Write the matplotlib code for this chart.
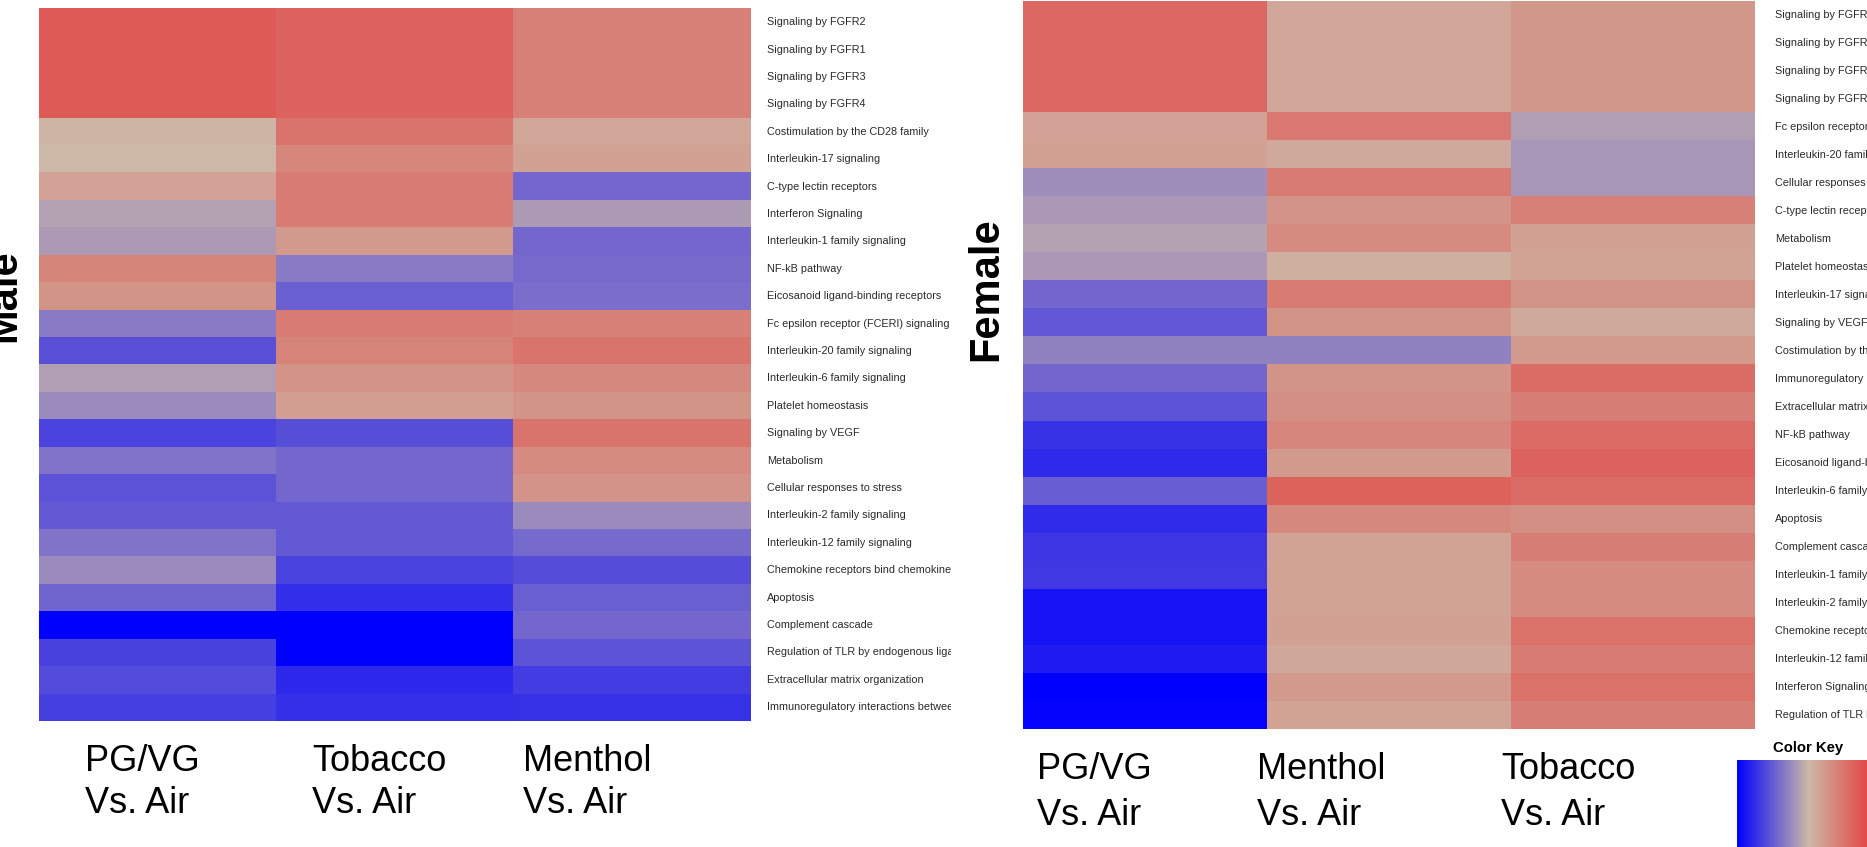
import numpy as np
import matplotlib
matplotlib.use("Agg")
import matplotlib.pyplot as plt
from matplotlib.colors import LinearSegmentedColormap
from matplotlib.transforms import Bbox, TransformedBbox, blended_transform_factory

plt.rcParams['font.family'] = ['Liberation Sans', 'DejaVu Sans']

W, H = 1867, 847

# Male: pathway order and scaled enrichment per exposure
male_pathways = [
    "Signaling by FGFR2", "Signaling by FGFR1", "Signaling by FGFR3", "Signaling by FGFR4",
    "Costimulation by the CD28 family", "Interleukin-17 signaling", "C-type lectin receptors",
    "Interferon Signaling", "Interleukin-1 family signaling", "NF-kB pathway",
    "Eicosanoid ligand-binding receptors", "Fc epsilon receptor (FCERI) signaling",
    "Interleukin-20 family signaling", "Interleukin-6 family signaling", "Platelet homeostasis",
    "Signaling by VEGF", "Metabolism", "Cellular responses to stress",
    "Interleukin-2 family signaling", "Interleukin-12 family signaling",
    "Chemokine receptors bind chemokines", "Apoptosis", "Complement cascade",
    "Regulation of TLR by endogenous ligand", "Extracellular matrix organization",
    "Immunoregulatory interactions between a Lymphoid and a non-Lymphoid cell",
]
male_pgvg = [0.69, 0.69, 0.69, 0.69, 0.02, 0.00, 0.16, -0.12, -0.16, 0.38, 0.26, -0.33, -0.56,
             -0.14, -0.24, -0.63, -0.37, -0.55, -0.51, -0.37, -0.24, -0.45, -1.00, -0.64, -0.59, -0.65]
male_tobacco = [0.63, 0.63, 0.63, 0.63, 0.50, 0.36, 0.44, 0.44, 0.22, -0.33, -0.47, 0.44, 0.39,
                0.27, 0.19, -0.57, -0.43, -0.43, -0.51, -0.51, -0.63, -0.75, -1.00, -1.00, -0.78, -0.74]
male_menthol = [0.41, 0.41, 0.41, 0.41, 0.13, 0.17, -0.43, -0.15, -0.43, -0.42, -0.40, 0.41, 0.50,
                0.35, 0.26, 0.50, 0.33, 0.27, -0.24, -0.42, -0.58, -0.48, -0.43, -0.54, -0.67, -0.73]
male_columns = ["PG/VG", "Tobacco", "Menthol"]

# Female
female_pathways = [
    "Signaling by FGFR2", "Signaling by FGFR1", "Signaling by FGFR3", "Signaling by FGFR4",
    "Fc epsilon receptor (FCERI) signaling", "Interleukin-20 family signaling",
    "Cellular responses to stress", "C-type lectin receptors", "Metabolism",
    "Platelet homeostasis", "Interleukin-17 signaling", "Signaling by VEGF",
    "Costimulation by the CD28 family",
    "Immunoregulatory interactions between a Lymphoid and a non-Lymphoid cell",
    "Extracellular matrix organization", "NF-kB pathway", "Eicosanoid ligand-binding receptors",
    "Interleukin-6 family signaling", "Apoptosis", "Complement cascade",
    "Interleukin-1 family signaling", "Interleukin-2 family signaling",
    "Chemokine receptors bind chemokines", "Interleukin-12 family signaling",
    "Interferon Signaling", "Regulation of TLR by endogenous ligand",
]
female_pgvg = [0.59, 0.59, 0.59, 0.59, 0.16, 0.17, -0.22, -0.17, -0.12, -0.17, -0.44, -0.52, -0.29,
               -0.44, -0.54, -0.72, -0.77, -0.49, -0.76, -0.70, -0.68, -0.89, -0.89, -0.84, -1.00, -0.97]
female_menthol = [0.13, 0.13, 0.13, 0.13, 0.47, 0.10, 0.44, 0.27, 0.33, 0.07, 0.44, 0.26, -0.29,
                  0.26, 0.30, 0.37, 0.22, 0.64, 0.35, 0.15, 0.15, 0.15, 0.17, 0.11, 0.22, 0.15]
female_tobacco = [0.24, 0.24, 0.24, 0.24, -0.14, -0.18, -0.18, 0.41, 0.17, 0.15, 0.26, 0.10, 0.22,
                  0.54, 0.42, 0.57, 0.63, 0.56, 0.30, 0.42, 0.33, 0.33, 0.52, 0.44, 0.52, 0.42]
female_columns = ["PG/VG", "Menthol", "Tobacco"]

cmap = LinearSegmentedColormap.from_list("bluetanred", ["#0000FF", "#CDB8A8", "#E63232"])

fig = plt.figure(figsize=(W / 100, H / 100), dpi=100)


def px_axes(x0, y0, x1, y1):
    return fig.add_axes([x0 / W, 1 - y1 / H, (x1 - x0) / W, (y1 - y0) / H])


def draw_heatmap(ax, columns, pathways, label_x, clip_right):
    data = np.column_stack(columns)
    ax.imshow(data, cmap=cmap, vmin=-1, vmax=1, aspect="auto", interpolation="nearest")
    ax.set_axis_off()
    # row labels to the right, cut off at clip_right
    trans = blended_transform_factory(fig.transFigure, ax.transData)
    clip = TransformedBbox(Bbox.from_extents(0, 0, clip_right / W, 1), fig.transFigure)
    for i, name in enumerate(pathways):
        fig.text(label_x / W, i, name, transform=trans, ha="left", va="center",
                 fontsize=7.8, color="#2a2a2a", clip_on=True, clip_box=clip)


def column_headers(names, xs, base1, base2):
    for name, x in zip(names, xs):
        fig.text(x / W, 1 - base1 / H, name, fontsize=26, va="baseline", ha="left")
        fig.text(x / W, 1 - base2 / H, "Vs. Air", fontsize=26, va="baseline", ha="left")


ax_m = px_axes(39, 8.5, 750, 721)
draw_heatmap(ax_m, [male_pgvg, male_tobacco, male_menthol], male_pathways, 767, 951)
column_headers(male_columns, [85, 312, 523], 771, 813)

ax_f = px_axes(1023, 1, 1755, 729)
draw_heatmap(ax_f, [female_pgvg, female_menthol, female_tobacco], female_pathways, 1775, W)
column_headers(female_columns, [1037, 1257, 1501], 779, 825)

fig.text(4 / W, 1 - 296 / H, "Male", rotation=90, fontsize=30, fontweight="bold",
         ha="center", va="center")
fig.text(986 / W, 1 - 289 / H, "Female", rotation=90, fontsize=30, fontweight="bold",
         ha="center", va="center")

# colour key in the lower right corner
fig.text(1773 / W, 1 - 748 / H, "Color Key", fontsize=10.7, fontweight="bold",
         ha="left", va="center")
ax_key = px_axes(1737, 760, 1880, 870)
ax_key.imshow(np.linspace(-1, 1, 256)[None, :], cmap=cmap, vmin=-1, vmax=1,
              aspect="auto", interpolation="bilinear")
ax_key.set_axis_off()

fig.savefig("out.png", dpi=100)
